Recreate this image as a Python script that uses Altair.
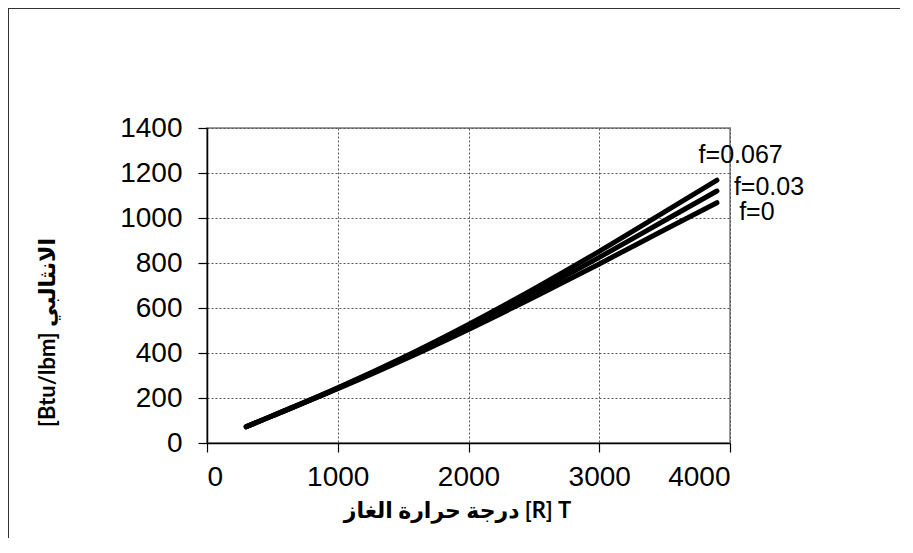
import altair as alt
import pandas as pd

# Data
T = [300, 500, 1000, 1500, 2000, 2500, 3000, 3500, 3900]
h_f0 = [72, 120, 241, 369, 505, 648, 796, 948, 1068]
h_f003 = [72, 121, 243, 375, 517, 667, 825, 989, 1120]
h_f0067 = [73, 121, 245, 380, 527, 685, 852, 1027, 1168]
series = ["f=0", "f=0.03", "f=0.067"]
label_T = [4070, 4030, 3760]
label_h = [1027, 1140, 1280]

x_ticks = [0, 1000, 2000, 3000, 4000]
y_ticks = [0, 200, 400, 600, 800, 1000, 1200, 1400]

rows = []
for name, vals in zip(series, [h_f0, h_f003, h_f0067]):
    for t, h in zip(T, vals):
        rows.append({"T": t, "h": h, "series": name})
df = pd.DataFrame(rows)
lab = pd.DataFrame({"T": label_T, "h": label_h, "series": series})

x_title = "درجة حرارة الغاز  [R] T"
y_title = "[Btu/lbm]  الانثالبي"

xscale = alt.Scale(domain=[0, 4000], nice=False, zero=True)
yscale = alt.Scale(domain=[0, 1400], nice=False)

lines = alt.Chart(df).mark_line(
    color="black", strokeWidth=5, strokeCap="round", strokeJoin="round",
    interpolate="monotone"
).encode(
    x=alt.X("T:Q", scale=xscale,
            axis=alt.Axis(values=x_ticks, title=x_title, labelPadding=11,
                          titleX=250, titleY=74, titleAlign="center",
                          titleBaseline="alphabetic", format="d")),
    y=alt.Y("h:Q", scale=yscale,
            axis=alt.Axis(values=y_ticks, title=y_title, labelPadding=16,
                          titleAngle=270, titleX=-160, titleY=204,
                          titleAlign="center", titleBaseline="middle", format="d")),
    detail="series:N",
)

labels = alt.Chart(lab).mark_text(
    align="left", baseline="middle", font="Liberation Sans", fontSize=25,
    color="black"
).encode(
    x=alt.X("T:Q", scale=xscale),
    y=alt.Y("h:Q", scale=yscale),
    text="series:N",
)

frame_df = pd.DataFrame({"k": [0]})
frame_left = alt.Chart(frame_df).mark_rule(color="#333333", strokeWidth=1).encode(
    x=alt.value(-198.5), y=alt.value(-120), y2=alt.value(700)
)
frame_top = alt.Chart(frame_df).mark_rule(color="#333333", strokeWidth=1).encode(
    x=alt.value(-199), x2=alt.value(900), y=alt.value(-119.5)
)

chart = alt.layer(lines, labels, frame_left, frame_top).properties(
    width=523, height=315,
    autosize=alt.AutoSizeParams(type="none"),
    padding={"left": 199, "top": 120, "right": 170, "bottom": 95},
    background="white",
).configure_view(
    stroke="#9a9a9a", strokeWidth=2
).configure_axis(
    domainColor="black", domainWidth=1.5, tickColor="black", tickSize=9,
    tickWidth=1.2,
    gridColor="#555555", gridDash=[2, 2], gridWidth=1,
    labelFont="Liberation Sans", labelFontSize=28, labelColor="black",
    titleFont="Lato, DejaVu Sans", titleFontWeight="bold", titleFontSize=22,
    titleColor="black",
)

chart.save("out.html", embed_options={"renderer": "svg", "actions": False})
